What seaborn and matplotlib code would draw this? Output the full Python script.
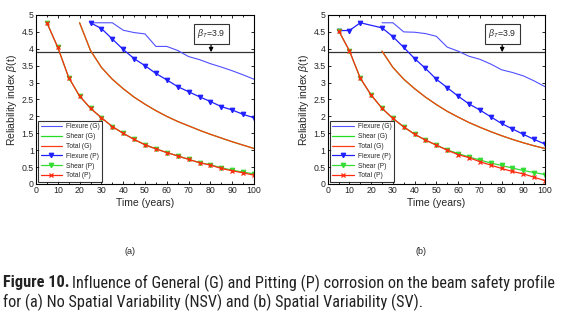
import numpy as np
import pandas as pd
import matplotlib
matplotlib.use("Agg")
import matplotlib.pyplot as plt
from matplotlib import font_manager
from matplotlib.ticker import MultipleLocator, FormatStrFormatter
import seaborn as sns

# ---- data -------------------------------------------------------------
years = [0, 5, 10, 15, 20, 25, 30, 35, 40, 45, 50, 55, 60, 65, 70, 75, 80, 85, 90, 95, 100]
nan = np.nan

# (a) No Spatial Variability
nsv_flexure_g = [nan, nan, nan, nan, nan, 4.77, 4.77, 4.77, 4.55, 4.48, 4.44, 4.07, 4.07, 3.95,
                 3.77, 3.68, 3.56, 3.46, 3.35, 3.23, 3.10]
nsv_total_g = [nan, nan, nan, nan, 4.77, 3.95, 3.45, 3.10, 2.82, 2.57, 2.36, 2.17, 2.00, 1.85,
               1.72, 1.59, 1.47, 1.36, 1.25, 1.15, 1.05]
nsv_shear_g = nsv_total_g
nsv_flexure_p = [nan, nan, nan, nan, nan, 4.77, 4.60, 4.29, 3.98, 3.71, 3.50, 3.27, 3.08, 2.88,
                 2.73, 2.58, 2.44, 2.29, 2.19, 2.06, 1.96]
nsv_shear_p = [nan, 4.77, 4.04, 3.15, 2.60, 2.24, 1.96, 1.70, 1.50, 1.32, 1.16, 1.04, 0.93, 0.83,
               0.73, 0.63, 0.57, 0.48, 0.41, 0.35, 0.30]
nsv_total_p = [nan, 4.77, 4.04, 3.15, 2.60, 2.24, 1.96, 1.70, 1.50, 1.32, 1.16, 1.04, 0.93, 0.83,
               0.73, 0.63, 0.56, 0.46, 0.39, 0.33, 0.26]

# (b) Spatial Variability
sv_flexure_g = [nan, nan, nan, nan, nan, 4.77, 4.77, 4.50, 4.49, 4.45, 4.37, 4.05, 3.93, 3.78,
                3.69, 3.55, 3.38, 3.30, 3.20, 3.05, 2.88]
sv_total_g = [nan, nan, nan, nan, nan, 3.93, 3.45, 3.10, 2.82, 2.57, 2.35, 2.15, 1.98, 1.82,
              1.68, 1.55, 1.43, 1.32, 1.22, 1.13, 1.05]
sv_shear_g = sv_total_g
sv_flexure_p = [nan, 4.54, 4.54, 4.77, nan, 4.62, 4.36, 4.04, 3.71, 3.42, 3.10, 2.85, 2.60, 2.37,
                2.19, 1.99, 1.79, 1.63, 1.47, 1.32, 1.18]
sv_shear_p = [nan, 4.54, 3.94, 3.13, 2.63, 2.24, 1.94, 1.69, 1.47, 1.30, 1.15, 1.01, 0.90, 0.80,
              0.71, 0.62, 0.55, 0.47, 0.40, 0.34, 0.28]
sv_total_p = [nan, 4.54, 3.94, 3.13, 2.63, 2.24, 1.94, 1.69, 1.47, 1.30, 1.15, 1.00, 0.87, 0.78,
              0.66, 0.56, 0.46, 0.37, 0.30, 0.20, 0.10]

target_beta = 3.9
target_label = r"$\beta_T$=$\it{3.9}$"

series_names = ["Flexure (G)", "Shear (G)", "Total (G)", "Flexure (P)", "Shear (P)", "Total (P)"]
panels = [
    ("(a)", [nsv_flexure_g, nsv_shear_g, nsv_total_g, nsv_flexure_p, nsv_shear_p, nsv_total_p]),
    ("(b)", [sv_flexure_g, sv_shear_g, sv_total_g, sv_flexure_p, sv_shear_p, sv_total_p]),
]

caption_head = "Figure 10."
caption_line1 = "Influence of General (G) and Pitting (P) corrosion on the beam safety profile"
caption_line2 = "for (a) No Spatial Variability (NSV) and (b) Spatial Variability (SV)."

# ---- styling ----------------------------------------------------------
sns.set_style("ticks")
plt.rcParams["font.family"] = ["Liberation Sans", "DejaVu Sans"]
plt.rcParams["mathtext.fontset"] = "custom"
plt.rcParams["mathtext.rm"] = "Liberation Sans"
plt.rcParams["mathtext.it"] = "Liberation Sans:italic"

styles = {
    "Flexure (G)": dict(color="#5050ff", lw=0.8, marker=None),
    "Shear (G)": dict(color="#22dd22", lw=0.9, marker=None),
    "Total (G)": dict(color="#ff3c14", lw=0.9, marker=None),
    "Flexure (P)": dict(color="#2020ff", lw=0.9, marker="v"),
    "Shear (P)": dict(color="#33dd33", lw=0.9, marker="v"),
    "Total (P)": dict(color="#ff2a10", lw=0.9, marker="x"),
}

fig = plt.figure(figsize=(5.63, 3.21), dpi=100)
W, H = 563, 321
axes_px = [(36, 15, 218, 169), (327.7, 15, 217.3, 169)]

for (tag, data), (x0, y0, w, h) in zip(panels, axes_px):
    ax = fig.add_axes([x0 / W, 1 - (y0 + h) / H, w / W, h / H])
    for name, vals in zip(series_names, data):
        st = styles[name]
        df = pd.DataFrame({"Time": years, "beta": vals})
        sns.lineplot(data=df, x="Time", y="beta", ax=ax, color=st["color"], lw=st["lw"],
                     marker=st["marker"], markersize=3.2, markeredgewidth=0.9,
                     markeredgecolor=st["color"], label=name, estimator=None)
    ax.axhline(target_beta, color="#333333", lw=0.9, zorder=1)
    ax.annotate(target_label, xy=(80.3, target_beta), xytext=(80.3, 4.45),
                ha="center", va="center", fontsize=6.3,
                bbox=dict(boxstyle="square,pad=0.4", fc="white", ec="#333333", lw=0.8),
                arrowprops=dict(arrowstyle="-|>", color="black", lw=0.9,
                                mutation_scale=6, shrinkA=0, shrinkB=0))
    ax.set_xlim(0, 100)
    ax.set_ylim(0, 5)
    ax.xaxis.set_major_locator(MultipleLocator(10))
    ax.xaxis.set_minor_locator(MultipleLocator(5))
    ax.yaxis.set_major_locator(MultipleLocator(0.5))
    ax.yaxis.set_major_formatter(FormatStrFormatter("%g"))
    ax.tick_params(which="both", direction="in", top=True, right=True, labelsize=6.3, pad=1.5,
                   width=0.7)
    ax.tick_params(which="major", length=2.5)
    ax.tick_params(which="minor", length=1.5)
    for s in ax.spines.values():
        s.set_linewidth(0.8)
        s.set_color("black")
    ax.set_xlabel("Time (years)", fontsize=7.5, labelpad=2)
    ax.set_ylabel(r"Reliability index $\beta$(t)", fontsize=7.5, labelpad=2)
    leg = ax.legend(loc="lower left", fontsize=4.8, frameon=True, fancybox=False,
                    handlelength=3.2, handletextpad=0.6, labelspacing=0.42,
                    borderpad=0.4, borderaxespad=0.3)
    leg.get_frame().set_edgecolor("black")
    leg.get_frame().set_linewidth(0.8)
    fig.text((x0 + w / 2 - 15) / W, 1 - 252 / H, tag, ha="center", va="center", fontsize=6.5)

# ---- caption ----------------------------------------------------------
# prefer a narrow family that also ships a bold face
by_name = {}
for f in font_manager.fontManager.ttflist:
    if any(k in f.name for k in ("Narrow", "Condensed")):
        w_ = f.weight if isinstance(f.weight, int) else (700 if "bold" in str(f.weight).lower() else 400)
        by_name.setdefault(f.name, set()).add(w_)
preferred = ["Roboto Condensed", "Open Sans Condensed", "Liberation Sans Narrow",
             "Noto Sans Condensed", "DejaVu Sans Condensed"]
narrow_names = sorted(by_name, key=lambda n: (preferred.index(n) if n in preferred else 99,
                                              -max(by_name[n])))
narrow_bold = [n for n in narrow_names if max(by_name[n]) >= 600]
cap_family = (narrow_names[:1]) + ["Liberation Sans", "DejaVu Sans"]
head_family = (narrow_bold[:1] or narrow_names[:1]) + ["Liberation Sans", "DejaVu Sans"]

fig.canvas.draw()
renderer = fig.canvas.get_renderer()
cap_size = 10.5
left_px, right_px = 3, 557
gap = 3
y1, y2 = 1 - 283 / H, 1 - 302 / H
t1 = fig.text(left_px / W, y1, caption_head, fontsize=cap_size, fontweight="bold",
              family=head_family, va="center", ha="left", color="#222222")
t2 = fig.text(0, y1, caption_line1, fontsize=cap_size, family=cap_family,
              va="center", ha="left", color="#222222")
t3 = fig.text(left_px / W, y2, caption_line2, fontsize=cap_size, family=cap_family,
              va="center", ha="left", color="#222222")
# size the caption so that its first line spans the figure width
for _ in range(4):
    w1 = t1.get_window_extent(renderer=renderer).width
    w2 = t2.get_window_extent(renderer=renderer).width
    total = w1 + gap + w2
    cap_size *= (right_px - left_px) / total
    cap_size = min(cap_size, 12.5)
    for t in (t1, t2, t3):
        t.set_fontsize(cap_size)
bb = t1.get_window_extent(renderer=renderer)
t2.set_x((bb.x1 + gap) / W)

fig.savefig("out.png", dpi=100)
